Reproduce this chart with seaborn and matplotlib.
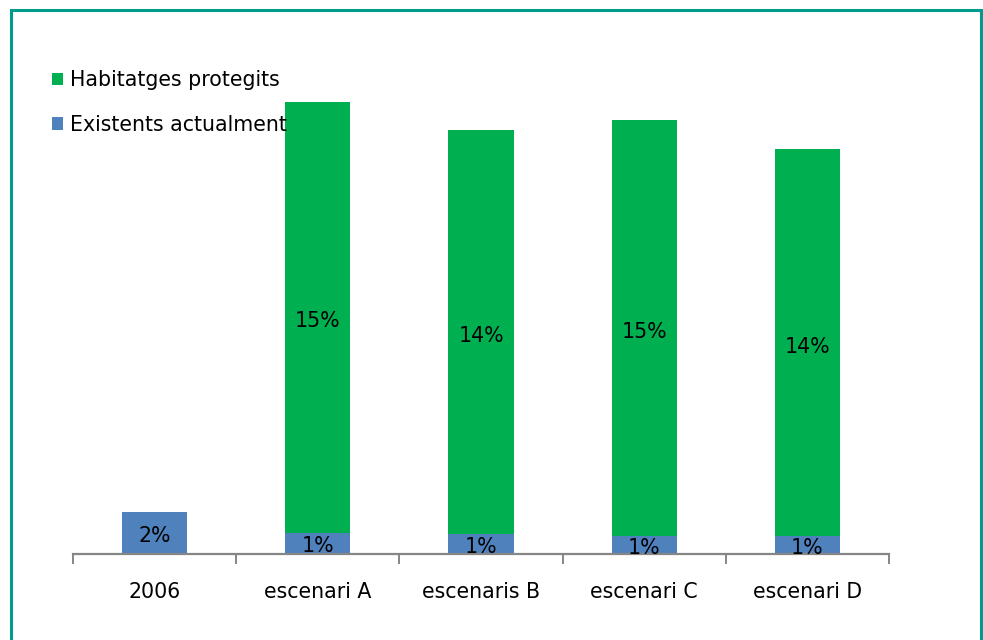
import matplotlib
matplotlib.use("Agg")
import matplotlib.pyplot as plt
from matplotlib.patches import Patch, Rectangle
import seaborn as sns
import pandas as pd

# ---- data (bar heights in arbitrary units) ----
categories = ["2006", "escenari A", "escenaris B", "escenari C", "escenari D"]
existents = [4.23, 2.13, 1.97, 1.77, 1.77]          # blue segment
protegits = [0.0, 43.10, 40.43, 41.60, 38.73]       # green segment
existents_labels = ["2%", "1%", "1%", "1%", "1%"]
protegits_labels = ["", "15%", "14%", "15%", "14%"]
legend_labels = ["Habitatges protegits", "Existents actualment"]

blue = "#4F81BD"
green = "#00B050"

sns.set_style("white")
plt.rcParams["font.family"] = ["DejaVu Sans"]
plt.rcParams["text.color"] = "black"
plt.rcParams["xtick.color"] = "black"

FS = 14.8

df = pd.DataFrame({"cat": categories, "existents": existents, "protegits": protegits})

fig = plt.figure(figsize=(9.83, 6.40), dpi=100)
ax = fig.add_axes([73 / 983, 86 / 640, 816 / 983, 494 / 640])

sns.barplot(data=df, x="cat", y="existents", order=categories, color=blue,
            width=0.40, ax=ax, saturation=1, edgecolor="none")
sns.barplot(data=df, x="cat", y="protegits", order=categories, color=green,
            width=0.40, ax=ax, saturation=1, edgecolor="none",
            bottom=df["existents"].values)

ax.bar_label(ax.containers[0], labels=existents_labels, label_type="center",
             fontsize=FS, color="black", padding=-2)
ax.bar_label(ax.containers[1], labels=protegits_labels, label_type="center",
             fontsize=FS, color="black", padding=-3)

ax.set_xlim(-0.5, len(categories) - 0.5)
ax.set_ylim(0, 49.4)
ax.set_xlabel("")
ax.set_ylabel("")
ax.set_yticks([])

for s in ["top", "right", "left"]:
    ax.spines[s].set_visible(False)
ax.spines["bottom"].set_color("#868686")
ax.spines["bottom"].set_linewidth(1.6)

# category labels (no tick marks at centers), tick marks at category boundaries
ax.set_xticks(range(len(categories)))
ax.set_xticklabels(categories, fontsize=FS, color="black")
ax.tick_params(axis="x", which="major", bottom=True, length=0, pad=20)
ax.set_xticks([i - 0.5 for i in range(len(categories) + 1)], minor=True)
ax.tick_params(axis="x", which="minor", bottom=True, length=7, width=1.4,
               color="#868686", direction="out")

handles = [Patch(facecolor=green, edgecolor="none"),
           Patch(facecolor=blue, edgecolor="none")]
leg = fig.legend(handles, legend_labels, loc="upper left",
                 bbox_to_anchor=(44 / 983, 1 - 62 / 640), frameon=False,
                 fontsize=FS, handlelength=0.5, handleheight=0.55,
                 handletextpad=0.35, labelspacing=1.2, borderaxespad=0)
for t in leg.get_texts():
    t.set_color("black")

# outer teal border
fig.patches.append(Rectangle((11 / 983, -0.05), (981 - 11) / 983, 1.05 - 10 / 640,
                             transform=fig.transFigure, fill=False,
                             edgecolor="#009B8A", linewidth=2.2))

fig.savefig("out.png", dpi=100)
